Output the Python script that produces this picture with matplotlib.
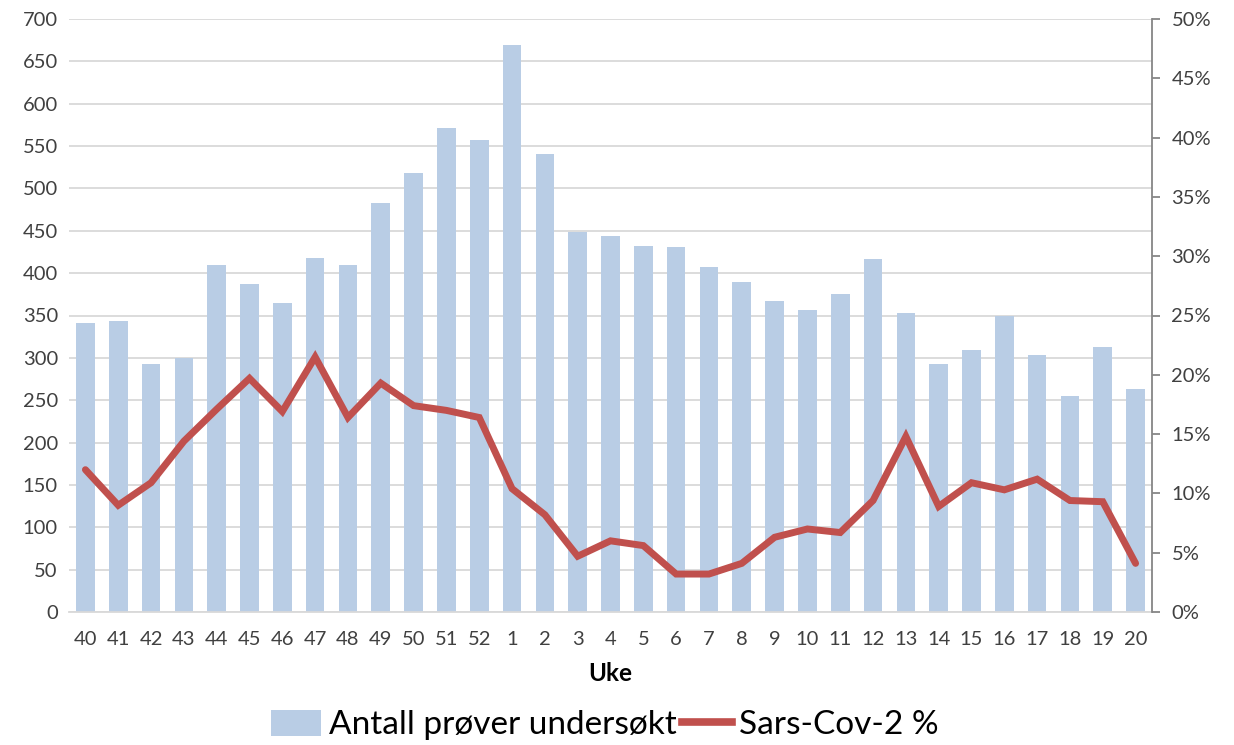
import matplotlib.pyplot as plt
from matplotlib.ticker import PercentFormatter
from matplotlib.patches import Patch
from matplotlib.lines import Line2D

plt.rcParams['font.family'] = ['Lato', 'DejaVu Sans']

weeks = ['40', '41', '42', '43', '44', '45', '46', '47', '48', '49', '50', '51', '52',
         '1', '2', '3', '4', '5', '6', '7', '8', '9', '10', '11', '12', '13', '14',
         '15', '16', '17', '18', '19', '20']
samples = [341, 344, 293, 300, 410, 387, 365, 418, 410, 483, 518, 571, 557,
           669, 541, 448, 444, 432, 431, 407, 389, 367, 357, 375, 417, 353, 293,
           309, 350, 303, 255, 313, 263]
sars_pct = [12.0, 9.0, 10.9, 14.4, 17.1, 19.7, 16.9, 21.5, 16.4, 19.3, 17.4, 17.0, 16.4,
            10.4, 8.2, 4.7, 6.0, 5.6, 3.2, 3.2, 4.1, 6.3, 7.0, 6.7, 9.4, 14.8, 8.9,
            10.9, 10.3, 11.2, 9.4, 9.3, 4.1]

bar_color = '#B9CDE5'
line_color = '#C0504D'
grid_color = '#D9D9D9'

fig = plt.figure(figsize=(12.34, 7.45), dpi=100)
ax = fig.add_axes([69 / 1234, 1 - 612 / 745, (1152 - 69) / 1234, (612 - 19) / 745])
x = list(range(len(weeks)))
ax.bar(x, samples, width=0.57, color=bar_color, zorder=2)
ax.set_xlim(-0.5, len(weeks) - 0.5)
ax.set_ylim(0, 700)
ax.set_yticks(range(0, 701, 50))
ax.set_xticks(x)
ax.set_xticklabels(weeks)
ax.yaxis.grid(True, color=grid_color, linewidth=1.3)
ax.set_axisbelow(True)
for s in ['top', 'left', 'right']:
    ax.spines[s].set_visible(False)
ax.spines['bottom'].set_color(grid_color)
ax.spines['bottom'].set_linewidth(1.3)
ax.tick_params(axis='both', length=0, labelsize=14.5, colors='#404040', pad=8)
ax.tick_params(axis='x', pad=14)
ax.set_xlabel('Uke', fontsize=17.5, fontweight='bold', labelpad=10)

ax2 = ax.twinx()
ax2.plot(x, [p / 100 for p in sars_pct], color=line_color, linewidth=5,
         solid_joinstyle='miter', solid_capstyle='round', zorder=3)
ax2.set_ylim(0, 0.5)
ax2.set_yticks([i / 100 for i in range(0, 51, 5)])
ax2.yaxis.set_major_formatter(PercentFormatter(1.0, decimals=0))
for s in ['top', 'left', 'bottom']:
    ax2.spines[s].set_visible(False)
ax2.spines['right'].set_color('#868686')
ax2.spines['right'].set_linewidth(1.3)
ax2.tick_params(axis='y', length=6, width=1.3, color='#868686', labelsize=14.5,
                labelcolor='#404040', pad=8)

handles = [Patch(facecolor=bar_color, edgecolor='none'),
           Line2D([0], [0], color=line_color, linewidth=5.5)]
fig.legend(handles, ['Antall prøver undersøkt', 'Sars-Cov-2 %'], loc='center',
           bbox_to_anchor=(605 / 1234, 1 - 725 / 745), ncol=2, frameon=False,
           fontsize=24, handlelength=1.5, handleheight=0.85, handletextpad=0.22,
           columnspacing=0.15, labelcolor='#000000')

fig.savefig('out.png', dpi=100)
